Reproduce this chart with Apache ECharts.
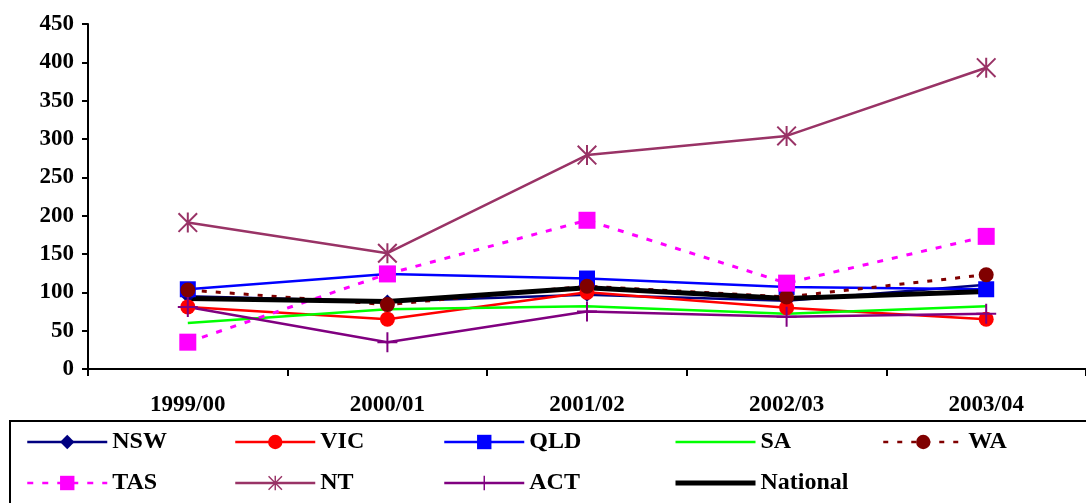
<!DOCTYPE html>
<html>
<head>
<meta charset="utf-8">
<script src="https://cdn.jsdelivr.net/npm/echarts@6/dist/echarts.min.js"></script>
<style>
  html, body { margin: 0; padding: 0; background: #fff; }
</style>
</head>
<body>
<div id="MyChart" style="width: 1086px;height:503px;"></div>
<script>
// 年度
const years = ['1999/00', '2000/01', '2001/02', '2002/03', '2003/04']
// 各州数据
const nsw = [95, 88, 97, 89, 110]
const vic = [81, 65, 100, 80, 65]
const qld = [104, 124, 118, 107, 104]
const sa = [60, 78, 82, 72, 82]
const wa = [103, 84, 108, 94, 123]
const tas = [35, 124, 194, 112, 173]
const nt = [191, 151, 279, 304, 393]
const act = [81, 35, 75, 68, 72]
const national = [92, 88, 106, 92, 101]
// y轴刻度
const yMin = 0
const yMax = 450
const yStep = 50

// 图例按列排：每列两行
const legendCols = [['NSW', 'TAS'], ['VIC', 'NT'], ['QLD', 'ACT'], ['SA', 'National'], ['WA']]
const legendLeft = [26, 234, 443, 673, 882]
const noSymbol = ['SA', 'National']

const font = '"Liberation Serif", "DejaVu Serif", serif'
const starPath = 'path://M9,0H11V20H9Z M0,1.4L1.4,0L20,18.6L18.6,20Z M18.6,0L20,1.4L1.4,20L0,18.6Z'
const plusPath = 'path://M9,0H11V20H9Z M0,9H20V11H0Z'

function line(name, data, color, opts) {
  opts = opts || {}
  return {
    name: name,
    type: 'line',
    data: data,
    symbol: opts.symbol || 'none',
    symbolSize: opts.size || 14,
    showSymbol: opts.symbol ? true : false,
    itemStyle: { color: color },
    lineStyle: { color: color, width: opts.width || 2.5, type: opts.dash || 'solid' },
    emphasis: { disabled: true },
    animation: false
  }
}

let myChart = echarts.init(document.getElementById('MyChart'))

// 每一列一个图例
let legends = []
for (let i = 0; i < legendCols.length; i++) {
  legends.push({
    left: legendLeft[i],
    top: 430,
    orient: 'vertical',
    padding: 0,
    itemGap: 17,
    itemWidth: 80,
    itemHeight: 18,
    selectedMode: false,
    textStyle: { fontFamily: font, fontWeight: 'bold', fontSize: 24, color: '#000' },
    data: legendCols[i].map(function (n) {
      if (n === 'National') return { name: n, itemStyle: { opacity: 0 }, lineStyle: { width: 5 } }
      if (noSymbol.indexOf(n) >= 0) return { name: n, itemStyle: { opacity: 0 }, lineStyle: { width: 2.5 } }
      return { name: n, lineStyle: { width: 2.5 } }
    })
  })
}

let option = {
  backgroundColor: '#fff',
  grid: { left: 88, top: 24, width: 1000, height: 345 },
  xAxis: {
    type: 'category',
    data: years,
    boundaryGap: true,
    axisLine: { lineStyle: { color: '#000', width: 2 } },
    axisTick: { show: true, length: 7, lineStyle: { color: '#000', width: 2 } },
    axisLabel: { color: '#000', fontFamily: font, fontWeight: 'bold', fontSize: 23, margin: 25 }
  },
  yAxis: {
    type: 'value',
    min: yMin,
    max: yMax,
    interval: yStep,
    axisLine: { show: true, lineStyle: { color: '#000', width: 2 } },
    axisTick: { show: true, length: 6, lineStyle: { color: '#000', width: 2 } },
    splitLine: { show: false },
    axisLabel: { color: '#000', fontFamily: font, fontWeight: 'bold', fontSize: 23, margin: 14 }
  },
  legend: legends,
  graphic: [{
    type: 'rect',
    shape: { x: 10, y: 421, width: 1100, height: 100 },
    style: { fill: 'none', stroke: '#000', lineWidth: 2 },
    z: -1
  }],
  series: [
    line('NSW', nsw, '#000080', { symbol: 'diamond', size: 14 }),
    line('VIC', vic, '#ff0000', { symbol: 'circle', size: 15 }),
    line('QLD', qld, '#0000ff', { symbol: 'rect', size: 16 }),
    line('SA', sa, '#00ff00', {}),
    line('WA', wa, '#800000', { symbol: 'circle', size: 15, dash: [5, 9], width: 3 }),
    line('TAS', tas, '#ff00ff', { symbol: 'rect', size: 17, dash: [6, 9], width: 3 }),
    line('NT', nt, '#993366', { symbol: starPath, size: 20, width: 2.5 }),
    line('ACT', act, '#800080', { symbol: plusPath, size: 20, width: 2.5 }),
    line('National', national, '#000000', { width: 5 })
  ]
}
myChart.setOption(option)
</script>
</body>
</html>
